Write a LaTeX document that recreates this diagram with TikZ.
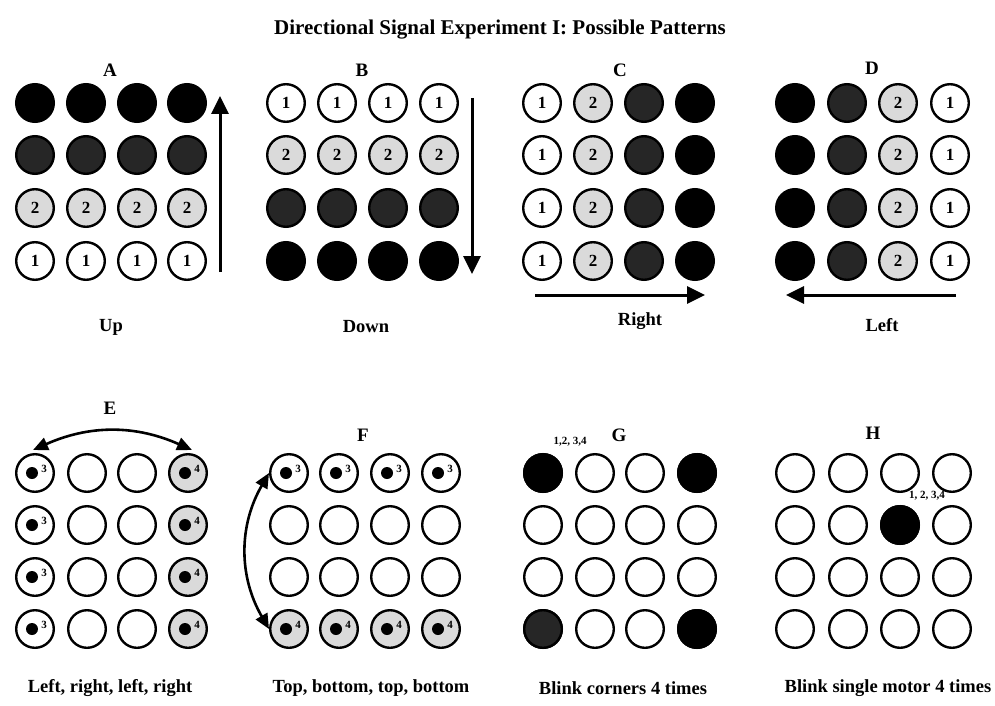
\documentclass[tikz,border=0pt]{standalone}
\usepackage{fontspec}
\setmainfont{Liberation Serif}
\usepackage{tikz}
\usetikzlibrary{arrows.meta,positioning,calc}
\definecolor{dark}{HTML}{262626}
\definecolor{light}{HTML}{DADADA}

\begin{document}
\begin{tikzpicture}[x=1pt,y=-1pt,
  mot/.style={circle,draw,line width=2.4pt,minimum size=37.6pt,inner sep=0pt,fill=white,
    font=\bfseries\fontsize{17}{17}\selectfont},
  on/.style={mot,fill=black},
  mid/.style={mot,fill=dark},
  low/.style={mot,fill=light},
  lbl/.style={font=\bfseries\fontsize{19}{19}\selectfont},
  captext/.style={font=\bfseries\fontsize{18.5}{18.5}\selectfont},
  tiny/.style={font=\bfseries\fontsize{11}{11}\selectfont,inner sep=0pt},
  arr/.style={-{Triangle[length=18pt,width=17pt]},line width=3pt},
  swing/.style={{Triangle[length=15pt,width=13pt]}-{Triangle[length=15pt,width=13pt]},line width=2.6pt}]
\useasboundingbox (0,0) rectangle (995,706);
\node[font=\bfseries\fontsize{21}{21}\selectfont] (title) at (500,30) {Directional Signal Experiment I: Possible Patterns};
% top row labels
\node[lbl] (la) at (110,70) {A};
\node[lbl] (lb) at (362,70) {B};
\node[lbl] (lc) at (620,70) {C};
\node[lbl] (ld) at (872,68) {D};
% A: up
\foreach \c/\x in {1/35,2/86,3/137,4/187}{
  \node[on] (a1\c) at (\x,103) {};
  \node[mid] (a2\c) at (\x,155) {};
  \node[low] (a3\c) at (\x,208) {2};
  \node[mot] (a4\c) at (\x,261) {1};
}
\coordinate (aS) at (220,272); \coordinate (aE) at (220,96);
\draw[arr] (aS)--(aE);
% B: down
\foreach \c/\x in {1/286,2/337,3/388,4/439}{
  \node[mot] (b1\c) at (\x,103) {1};
  \node[low] (b2\c) at (\x,155) {2};
  \node[mid] (b3\c) at (\x,208) {};
  \node[on] (b4\c) at (\x,261) {};
}
\coordinate (bS) at (472,98); \coordinate (bE) at (472,274);
\draw[arr] (bS)--(bE);
% C: right
\foreach \r/\y in {1/103,2/155,3/208,4/261}{
  \node[mot] (c\r1) at (542,\y) {1};
  \node[low] (c\r2) at (593,\y) {2};
  \node[mid] (c\r3) at (644,\y) {};
  \node[on] (c\r4) at (695,\y) {};
}
\coordinate (cS) at (535,295); \coordinate (cE) at (705,295);
\draw[arr] (cS)--(cE);
% D: left
\foreach \r/\y in {1/103,2/155,3/208,4/261}{
  \node[on] (d\r1) at (795,\y) {};
  \node[mid] (d\r2) at (847,\y) {};
  \node[low] (d\r3) at (898,\y) {2};
  \node[mot] (d\r4) at (950,\y) {1};
}
\coordinate (dS) at (956,295); \coordinate (dE) at (786,295);
\draw[arr] (dS)--(dE);
\node[captext] (up) at (111,327) {Up};
\node[captext] (down) at (366,327) {Down};
\node[captext] (right) at (640,321) {Right};
\node[captext] (left) at (882,325) {Left};
% bottom row labels
\node[lbl] (le) at (110,408) {E};
\node[lbl] (lf) at (363,435) {F};
\node[lbl] (lg) at (619,435) {G};
\node[lbl] (lh) at (873,433) {H};
% E: left, right
\foreach \r/\y in {1/473,2/525,3/577,4/629}{
  \node[mot] (e\r1) at (35,\y) {};
  \node[mot] (e\r2) at (87,\y) {};
  \node[mot] (e\r3) at (137,\y) {};
  \node[low] (e\r4) at (188,\y) {};
  \fill ([xshift=-3pt]e\r1.center) circle (6pt);
  \node[tiny] at ([xshift=9pt,yshift=4pt]e\r1.center) {3};
  \fill ([xshift=-3pt]e\r4.center) circle (6pt);
  \node[tiny] at ([xshift=9pt,yshift=4pt]e\r4.center) {4};
}
\draw[swing] ([xshift=-2pt,yshift=3pt]e11.north) to[bend left=24] ([xshift=4pt,yshift=3pt]e14.north);
% F: top, bottom
\foreach \c/\x in {1/289,2/339,3/390,4/441}{
  \node[mot] (f1\c) at (\x,473) {};
  \node[mot] (f2\c) at (\x,525) {};
  \node[mot] (f3\c) at (\x,577) {};
  \node[low] (f4\c) at (\x,629) {};
  \fill ([xshift=-3pt]f1\c.center) circle (6pt);
  \node[tiny] at ([xshift=9pt,yshift=4pt]f1\c.center) {3};
  \fill ([xshift=-3pt]f4\c.center) circle (6pt);
  \node[tiny] at ([xshift=9pt,yshift=4pt]f4\c.center) {4};
}
\draw[swing] (f11.west) to[bend right=30] (f41.west);
% G: corners
\foreach \r/\y in {1/473,2/525,3/577,4/629}{
  \node[mot] (g\r1) at (543,\y) {};
  \node[mot] (g\r2) at (595,\y) {};
  \node[mot] (g\r3) at (645,\y) {};
  \node[mot] (g\r4) at (697,\y) {};
}
\node[on] at (g11) {}; \node[on] at (g14) {};
\node[mid] at (g41) {}; \node[on] at (g44) {};
\node[tiny] (gt) at (570,442) {1,2, 3,4};
% H: single motor
\foreach \r/\y in {1/473,2/525,3/577,4/629}{
  \node[mot] (h\r1) at (795,\y) {};
  \node[mot] (h\r2) at (848,\y) {};
  \node[mot] (h\r3) at (900,\y) {};
  \node[mot] (h\r4) at (952,\y) {};
}
\node[on] at (h23) {};
\node[tiny] (ht) at (927,496) {1, 2, 3,4};
\node[captext] (ce) at (110,688) {Left, right, left, right};
\node[captext] (cf) at (371,688) {Top, bottom, top, bottom};
\node[captext] (cg) at (623,688) {Blink corners 4 times};
\node[captext] (ch) at (888,688) {Blink single motor 4 times};
\end{tikzpicture}
\end{document}
